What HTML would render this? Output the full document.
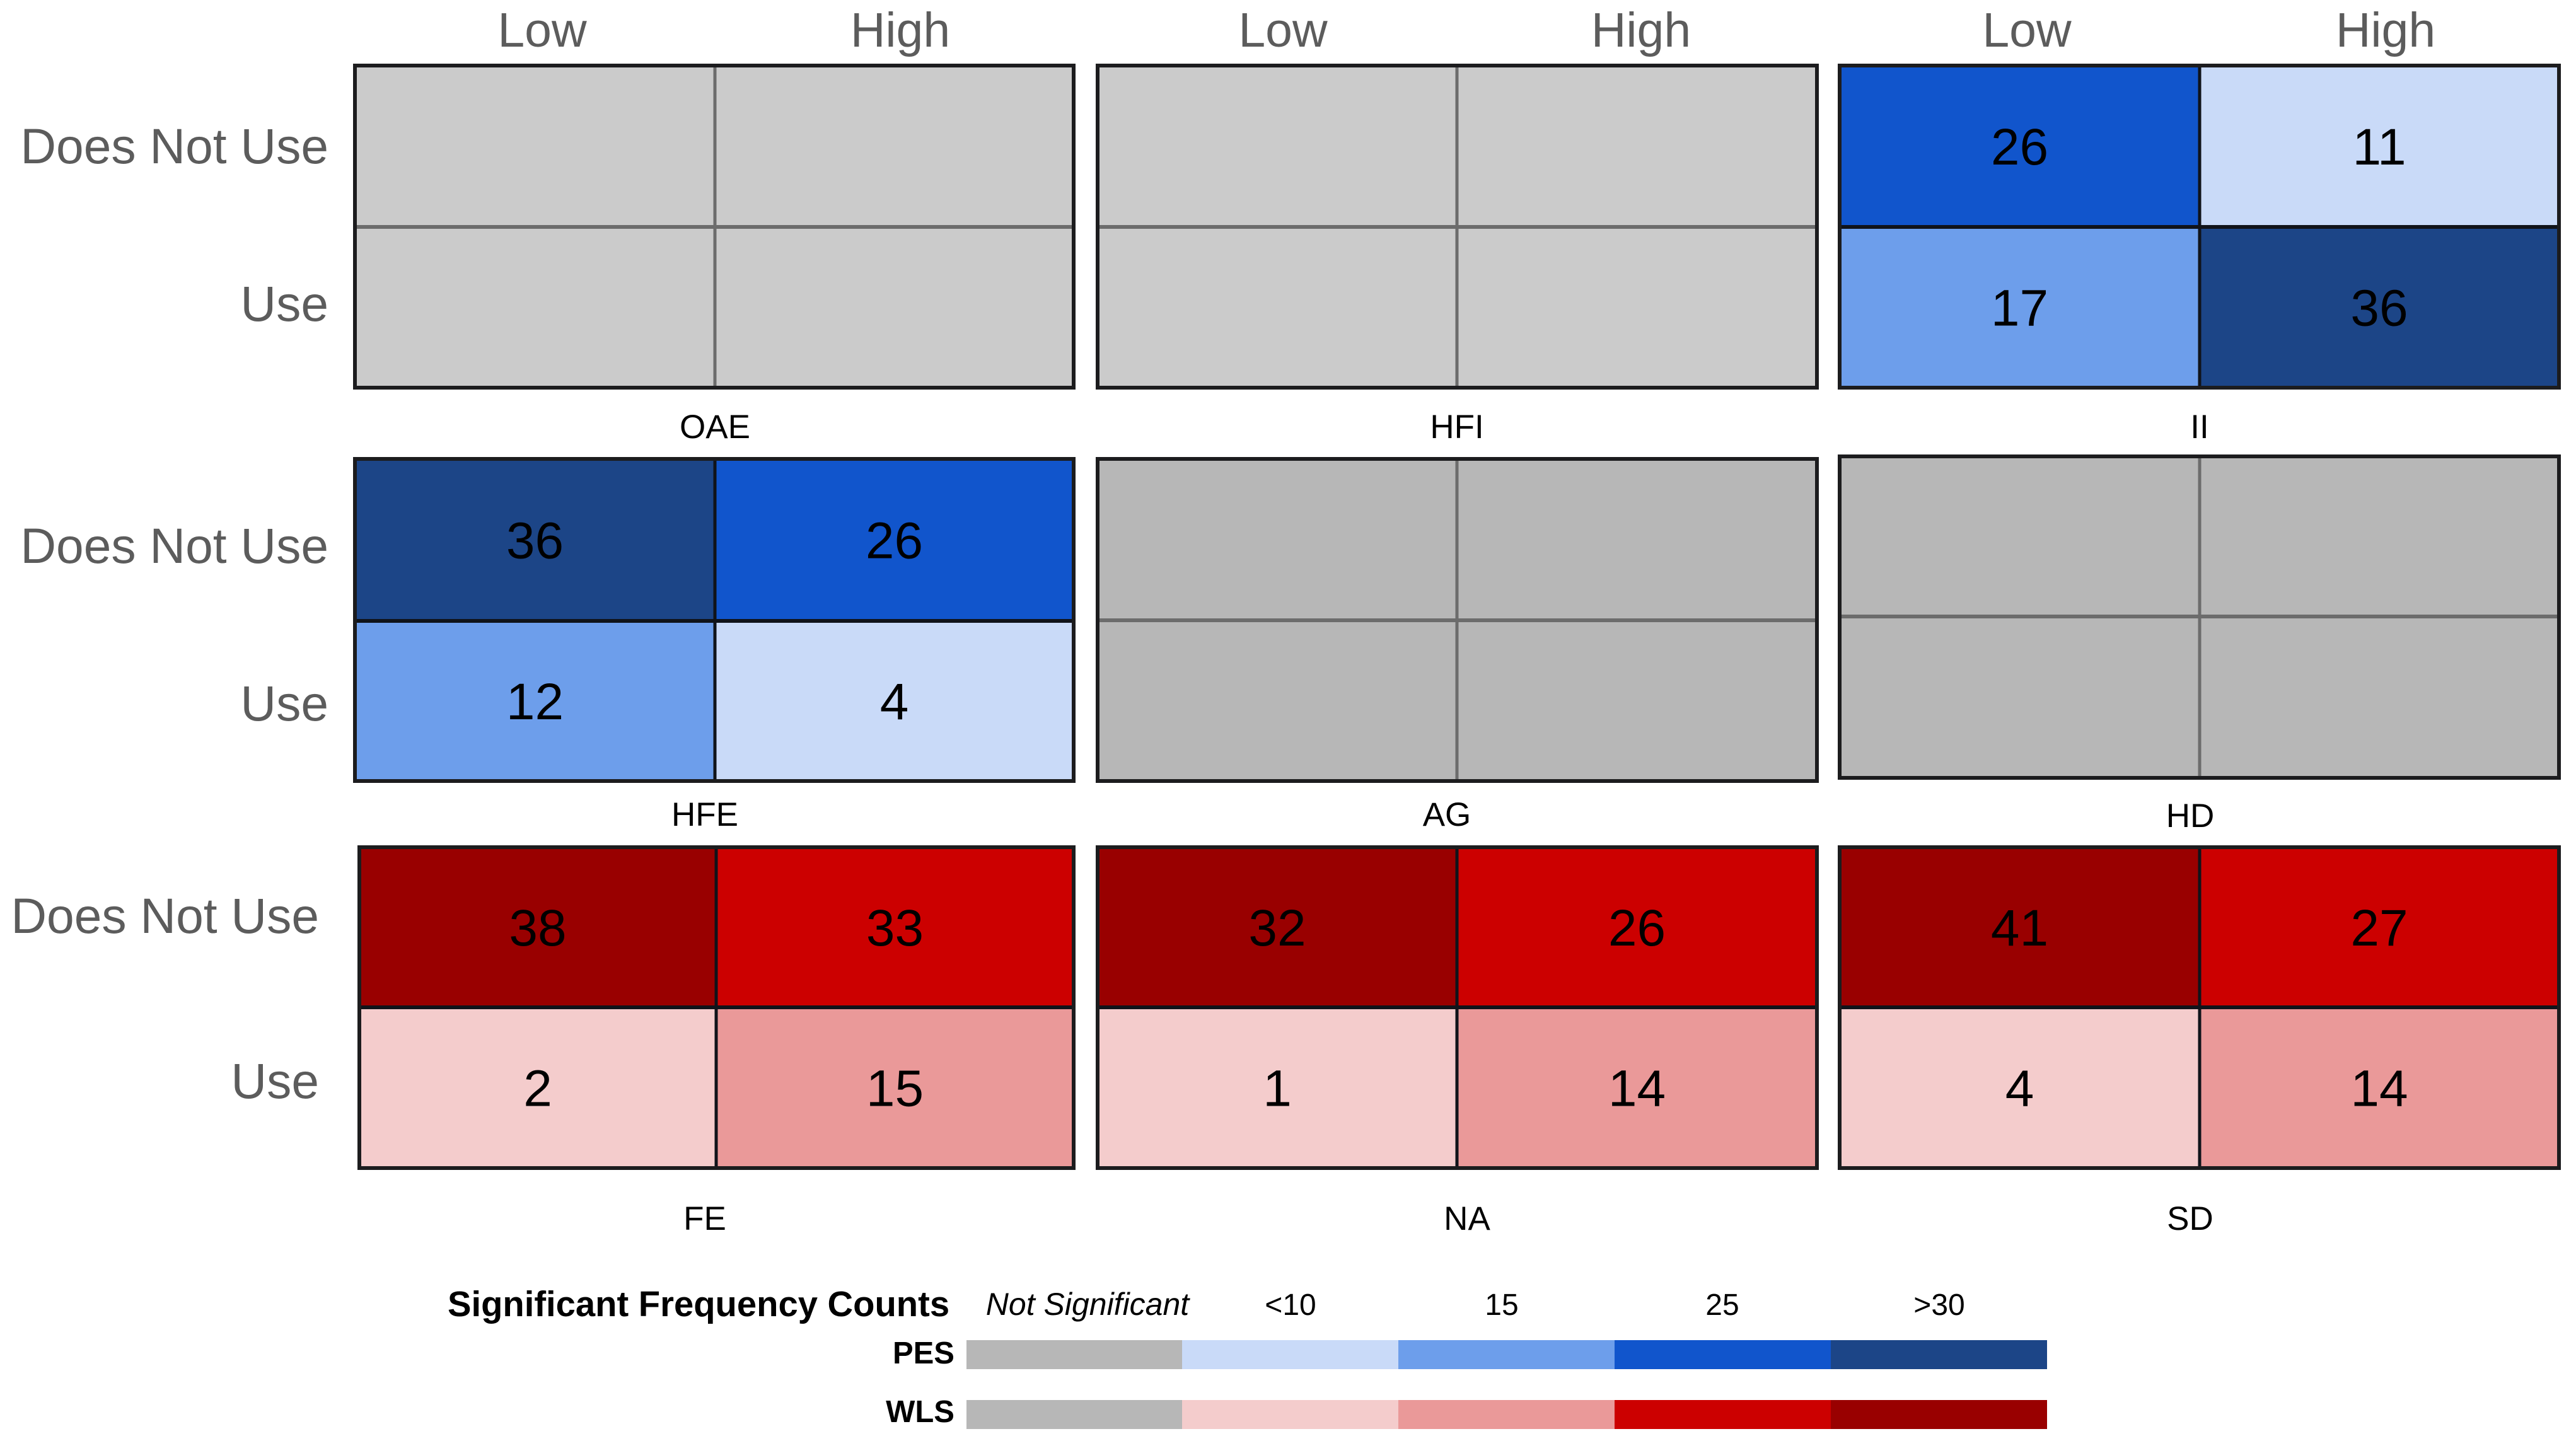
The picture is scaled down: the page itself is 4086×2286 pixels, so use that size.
<!DOCTYPE html>
<html lang="en">
<head>
<meta charset="utf-8">
<title>Significant Frequency Counts</title>
<style>
html,body{margin:0;padding:0;background:#fff;}
body{width:4086px;height:2286px;overflow:hidden;}
svg{display:block;font-family:"Liberation Sans",Arial,sans-serif;}
</style>
</head>
<body>
<svg id="chart" xmlns="http://www.w3.org/2000/svg" width="4086" height="2286" viewBox="0 0 4086 2286"></svg>
<script>
// ---- data ----
const panelNames = ["OAE", "HFI", "II", "HFE", "AG", "HD", "FE", "NA", "SD"];
const columnLabels = ["Low", "High"];
const rowLabels = ["Does Not Use", "Use"];
// each panel: [Does Not Use Low, Does Not Use High, Use Low, Use High]; null = not significant
const valuesOAE = [null, null, null, null];
const valuesHFI = [null, null, null, null];
const valuesII = [26, 11, 17, 36];
const valuesHFE = [36, 26, 12, 4];
const valuesAG = [null, null, null, null];
const valuesHD = [null, null, null, null];
const valuesFE = [38, 33, 2, 15];
const valuesNA = [32, 26, 1, 14];
const valuesSD = [41, 27, 4, 14];
const legendLabels = ["Not Significant", "<10", "15", "25", ">30"];
const legendSeries = ["PES", "WLS"];

const panelValues = [valuesOAE, valuesHFI, valuesII, valuesHFE, valuesAG, valuesHD, valuesFE, valuesNA, valuesSD];

// ---- palette ----
const bluePalette = ["#c9daf8", "#6d9eeb", "#1155cc", "#1c4587"];
const redPalette = ["#f4cccc", "#ea9999", "#cc0000", "#990000"];
const emptyFills = ["#cbcbcb", "#b7b7b7", "#b7b7b7"];
const legendGray = "#b7b7b7";

// ---- layout ----
const columnFrames = [
  [[563, 1134, 1703], [1741, 2311, 2882], [2918, 3489, 4059]],
  [[563, 1134, 1703], [1741, 2311, 2882], [2918, 3489, 4059]],
  [[570, 1136, 1703], [1741, 2311, 2882], [2918, 3489, 4059]]
];
const rowFrames = [
  [[104, 360, 615], [104, 360, 615], [104, 360, 615]],
  [[728, 985, 1239], [728, 984, 1239], [724, 978, 1234]],
  [[1344, 1598, 1853], [1344, 1598, 1853], [1344, 1598, 1853]]
];
const titleCenters = [[1134, 2311, 3489], [1118, 2295, 3474], [1118, 2327, 3474]];
const titleBaselines = [[695, 695, 695], [1310, 1310, 1312], [1951, 1951, 1951]];
const rowLabelRight = [521, 521, 506];
const rowLabelBaselines = [[259, 509], [893, 1143], [1480, 1742]];
const headerCenters = [[860, 1428], [2035, 2603], [3215, 3784]];

const svg = document.getElementById("chart");
const NS = "http://www.w3.org/2000/svg";

function addRect(parent, x, y, w, h, fill, stroke, sw) {
  const r = document.createElementNS(NS, "rect");
  r.setAttribute("x", x);
  r.setAttribute("y", y);
  r.setAttribute("width", w);
  r.setAttribute("height", h);
  r.setAttribute("fill", fill);
  if (stroke) { r.setAttribute("stroke", stroke); r.setAttribute("stroke-width", sw); }
  parent.appendChild(r);
  return r;
}
function addLine(parent, x1, y1, x2, y2, stroke, sw) {
  const l = document.createElementNS(NS, "line");
  l.setAttribute("x1", x1);
  l.setAttribute("y1", y1);
  l.setAttribute("x2", x2);
  l.setAttribute("y2", y2);
  l.setAttribute("stroke", stroke);
  l.setAttribute("stroke-width", sw);
  parent.appendChild(l);
  return l;
}
function addText(parent, x, y, str, size, fill, anchor, weight, style) {
  const t = document.createElementNS(NS, "text");
  t.setAttribute("x", x);
  t.setAttribute("y", y);
  t.setAttribute("font-size", size);
  t.setAttribute("fill", fill);
  t.setAttribute("text-anchor", anchor || "middle");
  if (weight) t.setAttribute("font-weight", weight);
  if (style) t.setAttribute("font-style", style);
  t.textContent = str;
  parent.appendChild(t);
  return t;
}
function kebab(s) { return s.toLowerCase().replace(/[^a-z0-9]+/g, "-"); }

// axis functions: map category index to the cell band of a panel
function xBand(frame, col) { return [frame[col], frame[col + 1]]; }
function yBand(frame, row) { return [frame[row], frame[row + 1]]; }

// colour scale: a panel's counts are shaded by their rank within that panel
function levelOf(values, v) {
  const sorted = values.slice().sort(function (a, b) { return a - b; });
  return sorted.indexOf(v);
}

// column headers (top row only)
columnLabels.forEach(function (label, c) {
  headerCenters.forEach(function (centers, p) {
    const t = addText(svg, centers[c], 74, label, 77, "#5c5c5c");
    
    
  });
});

// row labels
rowLabelBaselines.forEach(function (baselines, r) {
  rowLabels.forEach(function (label, i) {
    const t = addText(svg, rowLabelRight[r], baselines[i], label, 78.5, "#5c5c5c", "end");
    
    
  });
});

// panels
panelNames.forEach(function (name, idx) {
  const row = Math.floor(idx / 3);
  const col = idx % 3;
  const xf = columnFrames[row][col];
  const yf = rowFrames[row][col];
  const values = panelValues[idx];
  const palette = row === 1 ? bluePalette : row === 2 ? redPalette : bluePalette;
  const hasData = values.some(function (v) { return v !== null; });

  const g = document.createElementNS(NS, "g");
  
  
  svg.appendChild(g);

  values.forEach(function (v, i) {
    const rowIndex = Math.floor(i / 2);
    const colIndex = i % 2;
    const xb = xBand(xf, colIndex);
    const yb = yBand(yf, rowIndex);
    const fill = v === null ? emptyFills[row] : palette[levelOf(values, v)];
    const cell = addRect(g, xb[0], yb[0], xb[1] - xb[0], yb[1] - yb[0], fill);
    
    
  });

  const divider = hasData ? "#10131a" : "#6c6c6c";
  const vLine = addLine(g, xf[1], yf[0], xf[1], yf[2], divider, 5);
  
  
  const hLine = addLine(g, xf[0], yf[1], xf[2], yf[1], divider, 6);
  
  
  const frame = addRect(g, xf[0], yf[0], xf[2] - xf[0], yf[2] - yf[0], "none", "#1c1c1e", 6);
  
  

  values.forEach(function (v, i) {
    if (v === null) return;
    const xb = xBand(xf, i % 2);
    const yb = yBand(yf, Math.floor(i / 2));
    const label = addText(g, (xb[0] + xb[1]) / 2, (yb[0] + yb[1]) / 2 + 29, String(v), 82, "#000");
    
    
  });

  const title = addText(svg, titleCenters[row][col], titleBaselines[row][col], name, 53, "#000");
  
  
});

// legend
const legendEdges = [1533, 1875, 2218, 2561, 2904, 3247];
const legendLabelX = [1725, 2047, 2382, 2732, 3076];
const legendRowY = [[2126, 46, 2163], [2221, 46, 2256]];
const legendPalettes = [bluePalette, redPalette];

const legendTitle = addText(svg, 710, 2088, "Significant Frequency Counts", 56.2, "#000", "start", "bold");



legendLabels.forEach(function (label, i) {
  const t = i === 0
    ? addText(svg, legendLabelX[i], 2086, label, 50, "#000", "middle", null, "italic")
    : addText(svg, legendLabelX[i], 2086, label, 48, "#000");
  
  
});

legendSeries.forEach(function (series, s) {
  const spec = legendRowY[s];
  const lab = addText(svg, 1514, spec[2], series, 49, "#000", "end", "bold");
  
  
  legendLabels.forEach(function (label, i) {
    const fill = i === 0 ? legendGray : legendPalettes[s][i - 1];
    const swatch = addRect(svg, legendEdges[i], spec[0], legendEdges[i + 1] - legendEdges[i], spec[1], fill);
    
    
  });
});
</script>
</body>
</html>
